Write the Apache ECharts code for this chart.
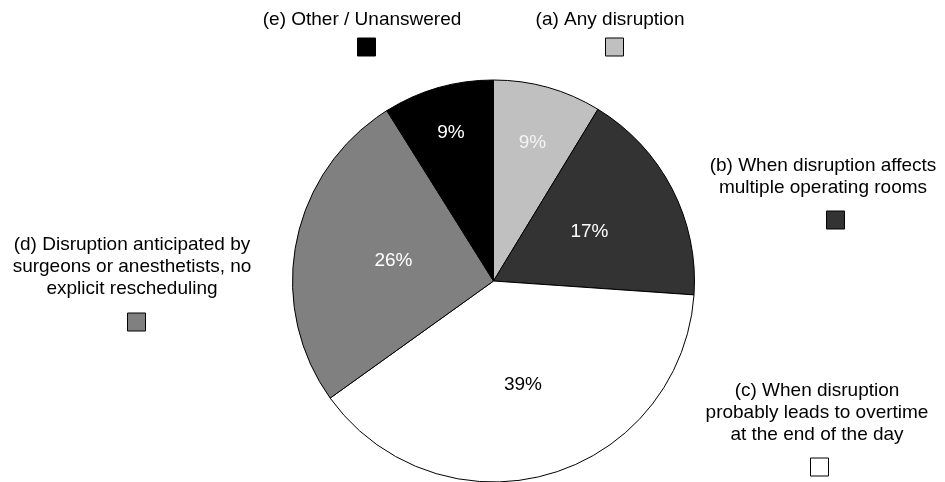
<!DOCTYPE html>
<html>
<head>
<meta charset="utf-8">
<script src="https://cdn.jsdelivr.net/npm/echarts@6/dist/echarts.min.js"></script>
<style>
  html, body { margin: 0; padding: 0; background: #ffffff; }
  #chart { width: 945px; height: 482px; }
</style>
</head>
<body>
<div id="chart"></div>
<script>
// ---- data ----
var categories = [
  '(a) Any disruption',
  '(b) When disruption affects\nmultiple operating rooms',
  '(c) When disruption\nprobably leads to overtime\nat the end of the day',
  '(d) Disruption anticipated by\nsurgeons or anesthetists, no\nexplicit rescheduling',
  '(e) Other / Unanswered'
];
var values = [8.7, 17.4, 39.0, 26.0, 8.9];

// ---- styles ----
var sliceColors = ['#c0c0c0', '#333333', '#ffffff', '#808080', '#000000'];
var labelColors = ['#f4f4f4', '#ffffff', '#000000', '#ffffff', '#ffffff'];
var labelRadius = [144, 108, 108, 102, 154];
var CX = 493.5, CY = 281, R = 201;
var FONT = '"Liberation Sans", Arial, sans-serif';
// legend layout: [textCenterX, textTopY, squareX, squareY]
var legendPos = [
  [610, 9, 605.5, 38],
  [823, 155, 826.5, 211],
  [817, 380, 810.5, 458],
  [132, 234, 127.5, 313],
  [362, 9, 357.5, 38]
];

var chart = echarts.init(document.getElementById('chart'), null, { renderer: 'canvas' });

var graphics = [];
categories.forEach(function (name, i) {
  var p = legendPos[i];
  graphics.push({
    type: 'text', silent: true,
    style: {
      text: name, x: p[0], y: p[1],
      textAlign: 'center', textVerticalAlign: 'top',
      align: 'center', verticalAlign: 'top',
      fontSize: 19, fontFamily: FONT, lineHeight: 22,
      fill: '#000000'
    }
  });
  graphics.push({
    type: 'rect', silent: true,
    shape: { x: p[2], y: p[3], width: 18, height: 18 },
    style: { fill: sliceColors[i], stroke: '#000000', lineWidth: 1 }
  });
});

chart.setOption({
  animation: false,
  backgroundColor: '#ffffff',
  graphic: graphics,
  series: [{
    type: 'pie',
    center: [CX, CY],
    radius: [0, R],
    startAngle: 90,
    clockwise: true,
    silent: true,
    itemStyle: { borderColor: '#000000', borderWidth: 1 },
    label: {
      show: true,
      position: 'inside',
      fontSize: 19,
      fontFamily: FONT,
      formatter: function (p) { return Math.round(p.value) + '%'; }
    },
    labelLine: { show: false },
    labelLayout: function (p) {
      var r = labelRadius[p.dataIndex];
      var lx = p.labelRect.x + p.labelRect.width / 2;
      var ly = p.labelRect.y + p.labelRect.height / 2;
      var vx = lx - CX, vy = ly - CY;
      var d = Math.sqrt(vx * vx + vy * vy) || 1;
      return { dx: vx * (r / d - 1), dy: vy * (r / d - 1) };
    },
    data: values.map(function (v, i) {
      return {
        name: categories[i],
        value: v,
        itemStyle: { color: sliceColors[i] },
        label: { color: labelColors[i] }
      };
    })
  }]
});
</script>
</body>
</html>
